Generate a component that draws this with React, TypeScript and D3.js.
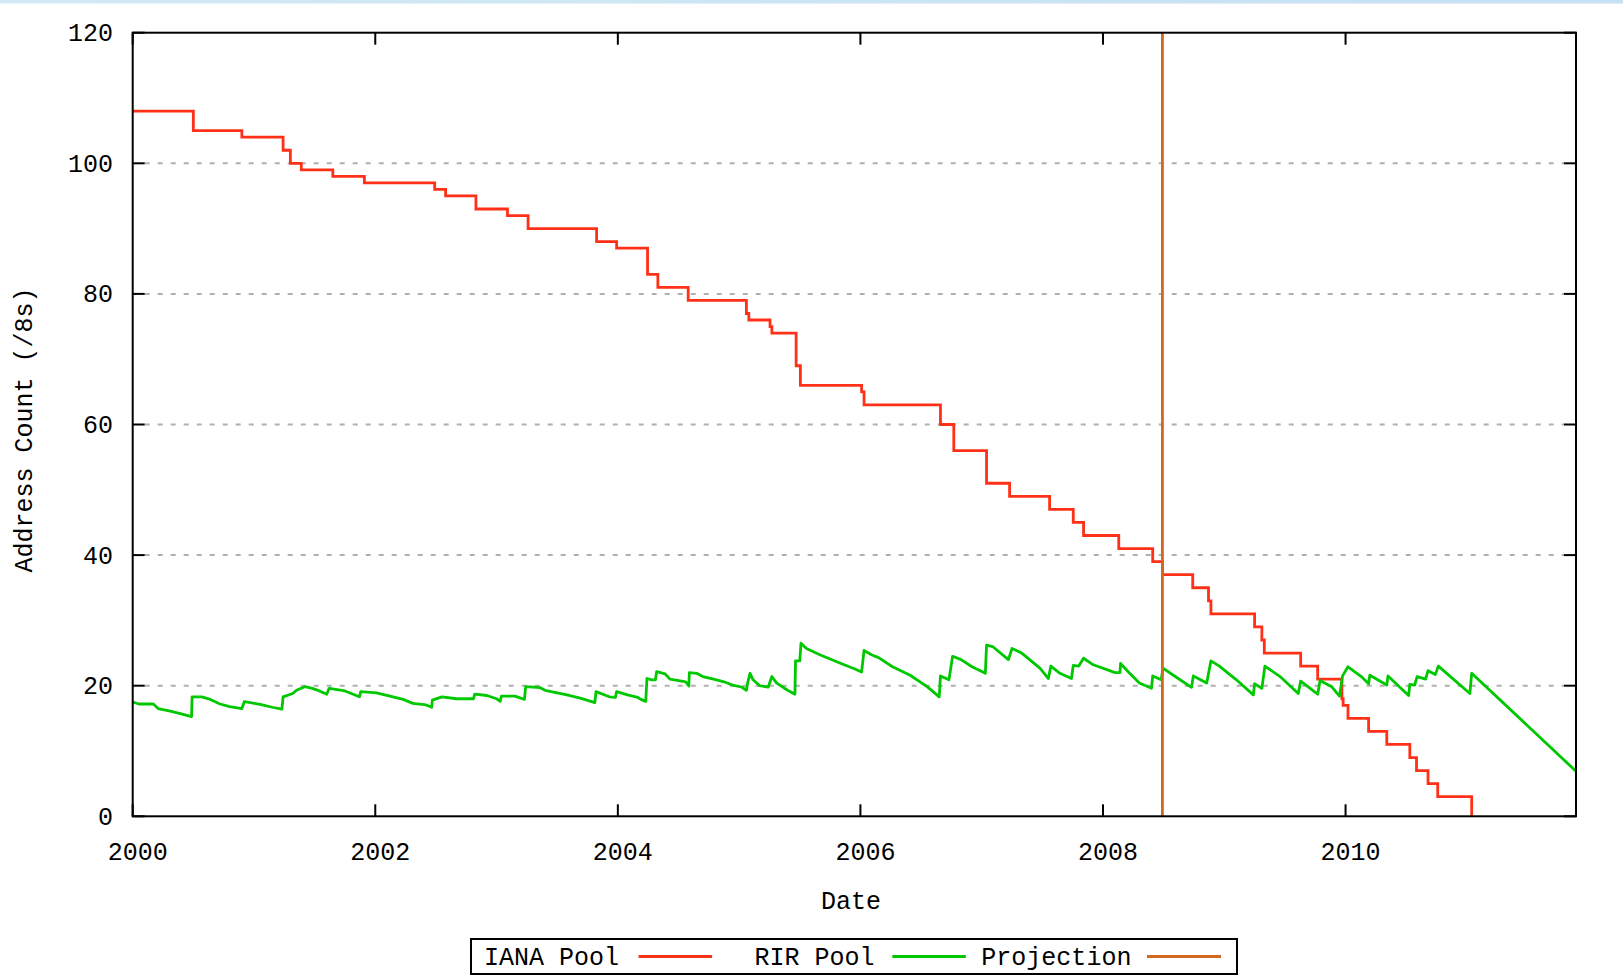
import React from "react";
import * as d3 from "d3";

const W = 1623;
const H = 977;

const yTicks = [0, 20, 40, 60, 80, 100, 120];
const xTicks = [2000, 2002, 2004, 2006, 2008, 2010];
const xDomain = [2000, 2011.9];
const yDomain = [0, 120];

const seriesNames = ["IANA Pool", "RIR Pool", "Projection"];
const seriesColors = ["#ff3018", "#00c800", "#d2691e"];

const ianaDates = [
  2000.0, 2000.5, 2000.9, 2001.24, 2001.3, 2001.39, 2001.65, 2001.91, 2002.49, 2002.58,
  2002.83, 2003.09, 2003.26, 2003.825, 2003.99, 2004.245, 2004.33, 2004.58, 2005.06, 2005.08,
  2005.255, 2005.27, 2005.47, 2005.505, 2006.01, 2006.03, 2006.66, 2006.77, 2007.04, 2007.23,
  2007.56, 2007.755, 2007.84, 2008.13, 2008.41, 2008.49, 2008.74, 2008.87, 2008.89, 2009.25,
  2009.31, 2009.33, 2009.63, 2009.77, 2009.97, 2009.98, 2010.02, 2010.19, 2010.34, 2010.53,
  2010.585, 2010.68, 2010.76, 2011.04,
];
const ianaValues = [
  108, 105, 104, 102, 100, 99, 98, 97, 96, 95,
  93, 92, 90, 88, 87, 83, 81, 79, 77, 76,
  75, 74, 69, 66, 65, 63, 60, 56, 51, 49,
  47, 45, 43, 41, 39, 37, 35, 33, 31, 29,
  27, 25, 23, 21, 18, 17, 15, 13, 11, 9,
  7, 5, 3, 0,
];

const rirDates = [
  2000.0, 2000.05, 2000.17, 2000.21, 2000.31, 2000.4, 2000.485, 2000.49, 2000.57, 2000.64,
  2000.72, 2000.8, 2000.9, 2000.92, 2001.05, 2001.15, 2001.23, 2001.24, 2001.32, 2001.35,
  2001.42, 2001.48, 2001.54, 2001.6, 2001.62, 2001.75, 2001.87, 2001.88, 2002.01, 2002.12,
  2002.23, 2002.31, 2002.42, 2002.465, 2002.47, 2002.55, 2002.67, 2002.81, 2002.82, 2002.92,
  2003.0, 2003.03, 2003.04, 2003.15, 2003.23, 2003.24, 2003.36, 2003.4, 2003.58, 2003.69,
  2003.81, 2003.82, 2003.93, 2003.98, 2003.99, 2004.08, 2004.165, 2004.19, 2004.23, 2004.24,
  2004.28, 2004.31, 2004.32, 2004.39, 2004.43, 2004.56, 2004.585, 2004.59, 2004.65, 2004.7,
  2004.79, 2004.875, 2004.945, 2005.02, 2005.06, 2005.07, 2005.09, 2005.115, 2005.17, 2005.24,
  2005.27, 2005.31, 2005.4, 2005.46, 2005.465, 2005.5, 2005.51, 2005.555, 2005.67, 2005.84,
  2005.95, 2006.01, 2006.03, 2006.095, 2006.15, 2006.265, 2006.41, 2006.55, 2006.65, 2006.66,
  2006.73, 2006.76, 2006.83, 2006.92, 2007.03, 2007.04, 2007.09, 2007.22, 2007.25, 2007.33,
  2007.48, 2007.55, 2007.57, 2007.645, 2007.74, 2007.755, 2007.8, 2007.84, 2007.92, 2008.1,
  2008.14, 2008.145, 2008.22, 2008.3, 2008.4, 2008.41, 2008.48, 2008.495, 2008.58, 2008.73,
  2008.745, 2008.855, 2008.89, 2008.96, 2009.1, 2009.24, 2009.25, 2009.31, 2009.335, 2009.46,
  2009.61, 2009.63, 2009.77, 2009.79, 2009.885, 2009.95, 2009.975, 2010.02, 2010.13, 2010.19,
  2010.2, 2010.34, 2010.35, 2010.52, 2010.53, 2010.57, 2010.59, 2010.66, 2010.68, 2010.74,
  2010.765, 2011.025, 2011.04, 2011.9,
];
const rirValues = [
  17.5, 17.2, 17.2, 16.5, 16.1, 15.7, 15.25, 18.3, 18.3, 17.9,
  17.2, 16.8, 16.5, 17.55, 17.15, 16.7, 16.4, 18.3, 18.8, 19.3,
  19.85, 19.6, 19.2, 18.7, 19.6, 19.2, 18.3, 19.1, 18.9, 18.4,
  17.9, 17.3, 17.05, 16.7, 17.8, 18.3, 18.0, 18.0, 18.7, 18.5,
  18.0, 17.6, 18.4, 18.4, 17.9, 19.85, 19.7, 19.3, 18.6, 18.1,
  17.4, 19.1, 18.3, 18.2, 19.1, 18.6, 18.2, 17.9, 17.6, 21.1,
  20.9, 20.9, 22.15, 21.8, 21.0, 20.6, 19.95, 22.0, 21.9, 21.4,
  21.0, 20.6, 20.1, 19.8, 19.3, 20.4, 21.9, 20.9, 20.0, 19.8,
  21.4, 20.4, 19.3, 18.7, 23.8, 23.8, 26.5, 25.7, 24.7, 23.4,
  22.6, 22.1, 25.4, 24.7, 24.3, 22.9, 21.6, 19.85, 18.3, 21.5,
  20.9, 24.5, 24.0, 22.9, 21.9, 26.2, 26.0, 24.0, 25.7, 25.0,
  22.7, 21.1, 23.0, 21.9, 21.1, 23.1, 23.0, 24.2, 23.2, 22.0,
  22.0, 23.4, 21.9, 20.4, 19.6, 21.5, 20.9, 22.7, 21.6, 19.75,
  21.5, 20.4, 23.8, 23.0, 20.9, 18.6, 20.3, 19.6, 23.0, 21.4,
  18.8, 20.7, 18.7, 20.8, 19.85, 18.4, 21.5, 22.9, 21.4, 20.3,
  21.6, 20.1, 21.5, 18.5, 20.2, 20.1, 21.4, 21.0, 22.3, 21.7,
  23.0, 18.8, 21.9, 6.9,
];

const projectionDate = 2008.49;

const FONT = "'Liberation Mono', 'DejaVu Sans Mono', monospace";

export default function App() {
  const left = 132.7;
  const right = 1576;
  const top = 32.7;
  const bottom = 816.3;

  const x = d3.scaleLinear().domain(xDomain).range([left, right]);
  const y = d3.scaleLinear().domain(yDomain).range([bottom, top]);

  const iana = ianaDates.map((d, i) => [d, ianaValues[i]] as [number, number]);
  const rir = rirDates.map((d, i) => [d, rirValues[i]] as [number, number]);

  const stepLine = d3
    .line<[number, number]>()
    .x((d) => x(d[0]))
    .y((d) => y(d[1]))
    .curve(d3.curveStepAfter);
  const linLine = d3
    .line<[number, number]>()
    .x((d) => x(d[0]))
    .y((d) => y(d[1]));

  const tickLen = 12;

  const legendY = 958;
  const legendItems = [
    { textEnd: 619, l0: 638.6, l1: 712.1 },
    { textEnd: 874.6, l0: 892.3, l1: 965.8 },
    { textEnd: 1131.4, l0: 1147, l1: 1221 },
  ];

  return (
    <svg
      width={W}
      height={H}
      style={{ position: "absolute", left: 0, top: 0, background: "#fff" }}
      fontFamily={FONT}
    >
      <defs>
        <linearGradient id="topbar" x1="0" x2="1" y1="0" y2="0">
          <stop offset="0" stopColor="#d4e9f6" />
          <stop offset="1" stopColor="#c4e0f2" />
        </linearGradient>
      </defs>
      <rect x={0} y={0} width={W} height={H} fill="#ffffff" />
      <rect x={0} y={0} width={W} height={3.5} fill="url(#topbar)" />

      {/* grid */}
      {yTicks
        .filter((t) => t > 0 && t < 120)
        .map((t) => (
          <line
            key={"g" + t}
            x1={left + tickLen}
            x2={right - tickLen}
            y1={y(t)}
            y2={y(t)}
            stroke="#b0b0b0"
            strokeWidth={2}
            strokeDasharray="5 8"
          />
        ))}

      {/* ticks */}
      {yTicks.map((t) => (
        <g key={"yt" + t}>
          <line x1={left} x2={left + tickLen} y1={y(t)} y2={y(t)} stroke="#000" strokeWidth={2} />
          <line x1={right} x2={right - tickLen} y1={y(t)} y2={y(t)} stroke="#000" strokeWidth={2} />
          <text
            x={113}
            y={y(t) + 2}
            textAnchor="end"
            dominantBaseline="central"
            fontSize={25}
            fill="#000"
          >
            {t}
          </text>
        </g>
      ))}
      {xTicks.map((t) => (
        <g key={"xt" + t}>
          <line x1={x(t)} x2={x(t)} y1={bottom} y2={bottom - tickLen} stroke="#000" strokeWidth={2} />
          <line x1={x(t)} x2={x(t)} y1={top} y2={top + tickLen} stroke="#000" strokeWidth={2} />
          <text
            x={x(t) + 5}
            y={853}
            textAnchor="middle"
            dominantBaseline="central"
            fontSize={25}
            fill="#000"
          >
            {t}
          </text>
        </g>
      ))}

      {/* data */}
      <path d={stepLine(iana) || ""} fill="none" stroke={seriesColors[0]} strokeWidth={2.8} />
      <path d={linLine(rir) || ""} fill="none" stroke={seriesColors[1]} strokeWidth={2.8} strokeLinejoin="round" />
      <line
        x1={x(projectionDate)}
        x2={x(projectionDate)}
        y1={y(yDomain[0])}
        y2={y(yDomain[1])}
        stroke={seriesColors[2]}
        strokeWidth={2.8}
      />

      {/* border */}
      <rect x={left} y={top} width={right - left} height={bottom - top} fill="none" stroke="#000" strokeWidth={2} />

      {/* axis labels */}
      <text x={851} y={902.5} textAnchor="middle" dominantBaseline="central" fontSize={25} fill="#000">
        Date
      </text>
      <text
        transform={`translate(25,430) rotate(-90)`}
        textAnchor="middle"
        dominantBaseline="central"
        fontSize={25}
        fill="#000"
      >
        Address Count (/8s)
      </text>

      {/* legend */}
      <rect x={471} y={939} width={766} height={35} fill="#fff" stroke="#000" strokeWidth={2} />
      {seriesNames.map((name, i) => (
        <g key={name}>
          <text
            x={legendItems[i].textEnd}
            y={legendY}
            textAnchor="end"
            dominantBaseline="central"
            fontSize={25}
            fill="#000"
          >
            {name}
          </text>
          <line
            x1={legendItems[i].l0}
            x2={legendItems[i].l1}
            y1={legendY - 1.5}
            y2={legendY - 1.5}
            stroke={seriesColors[i]}
            strokeWidth={2.8}
          />
        </g>
      ))}
    </svg>
  );
}
